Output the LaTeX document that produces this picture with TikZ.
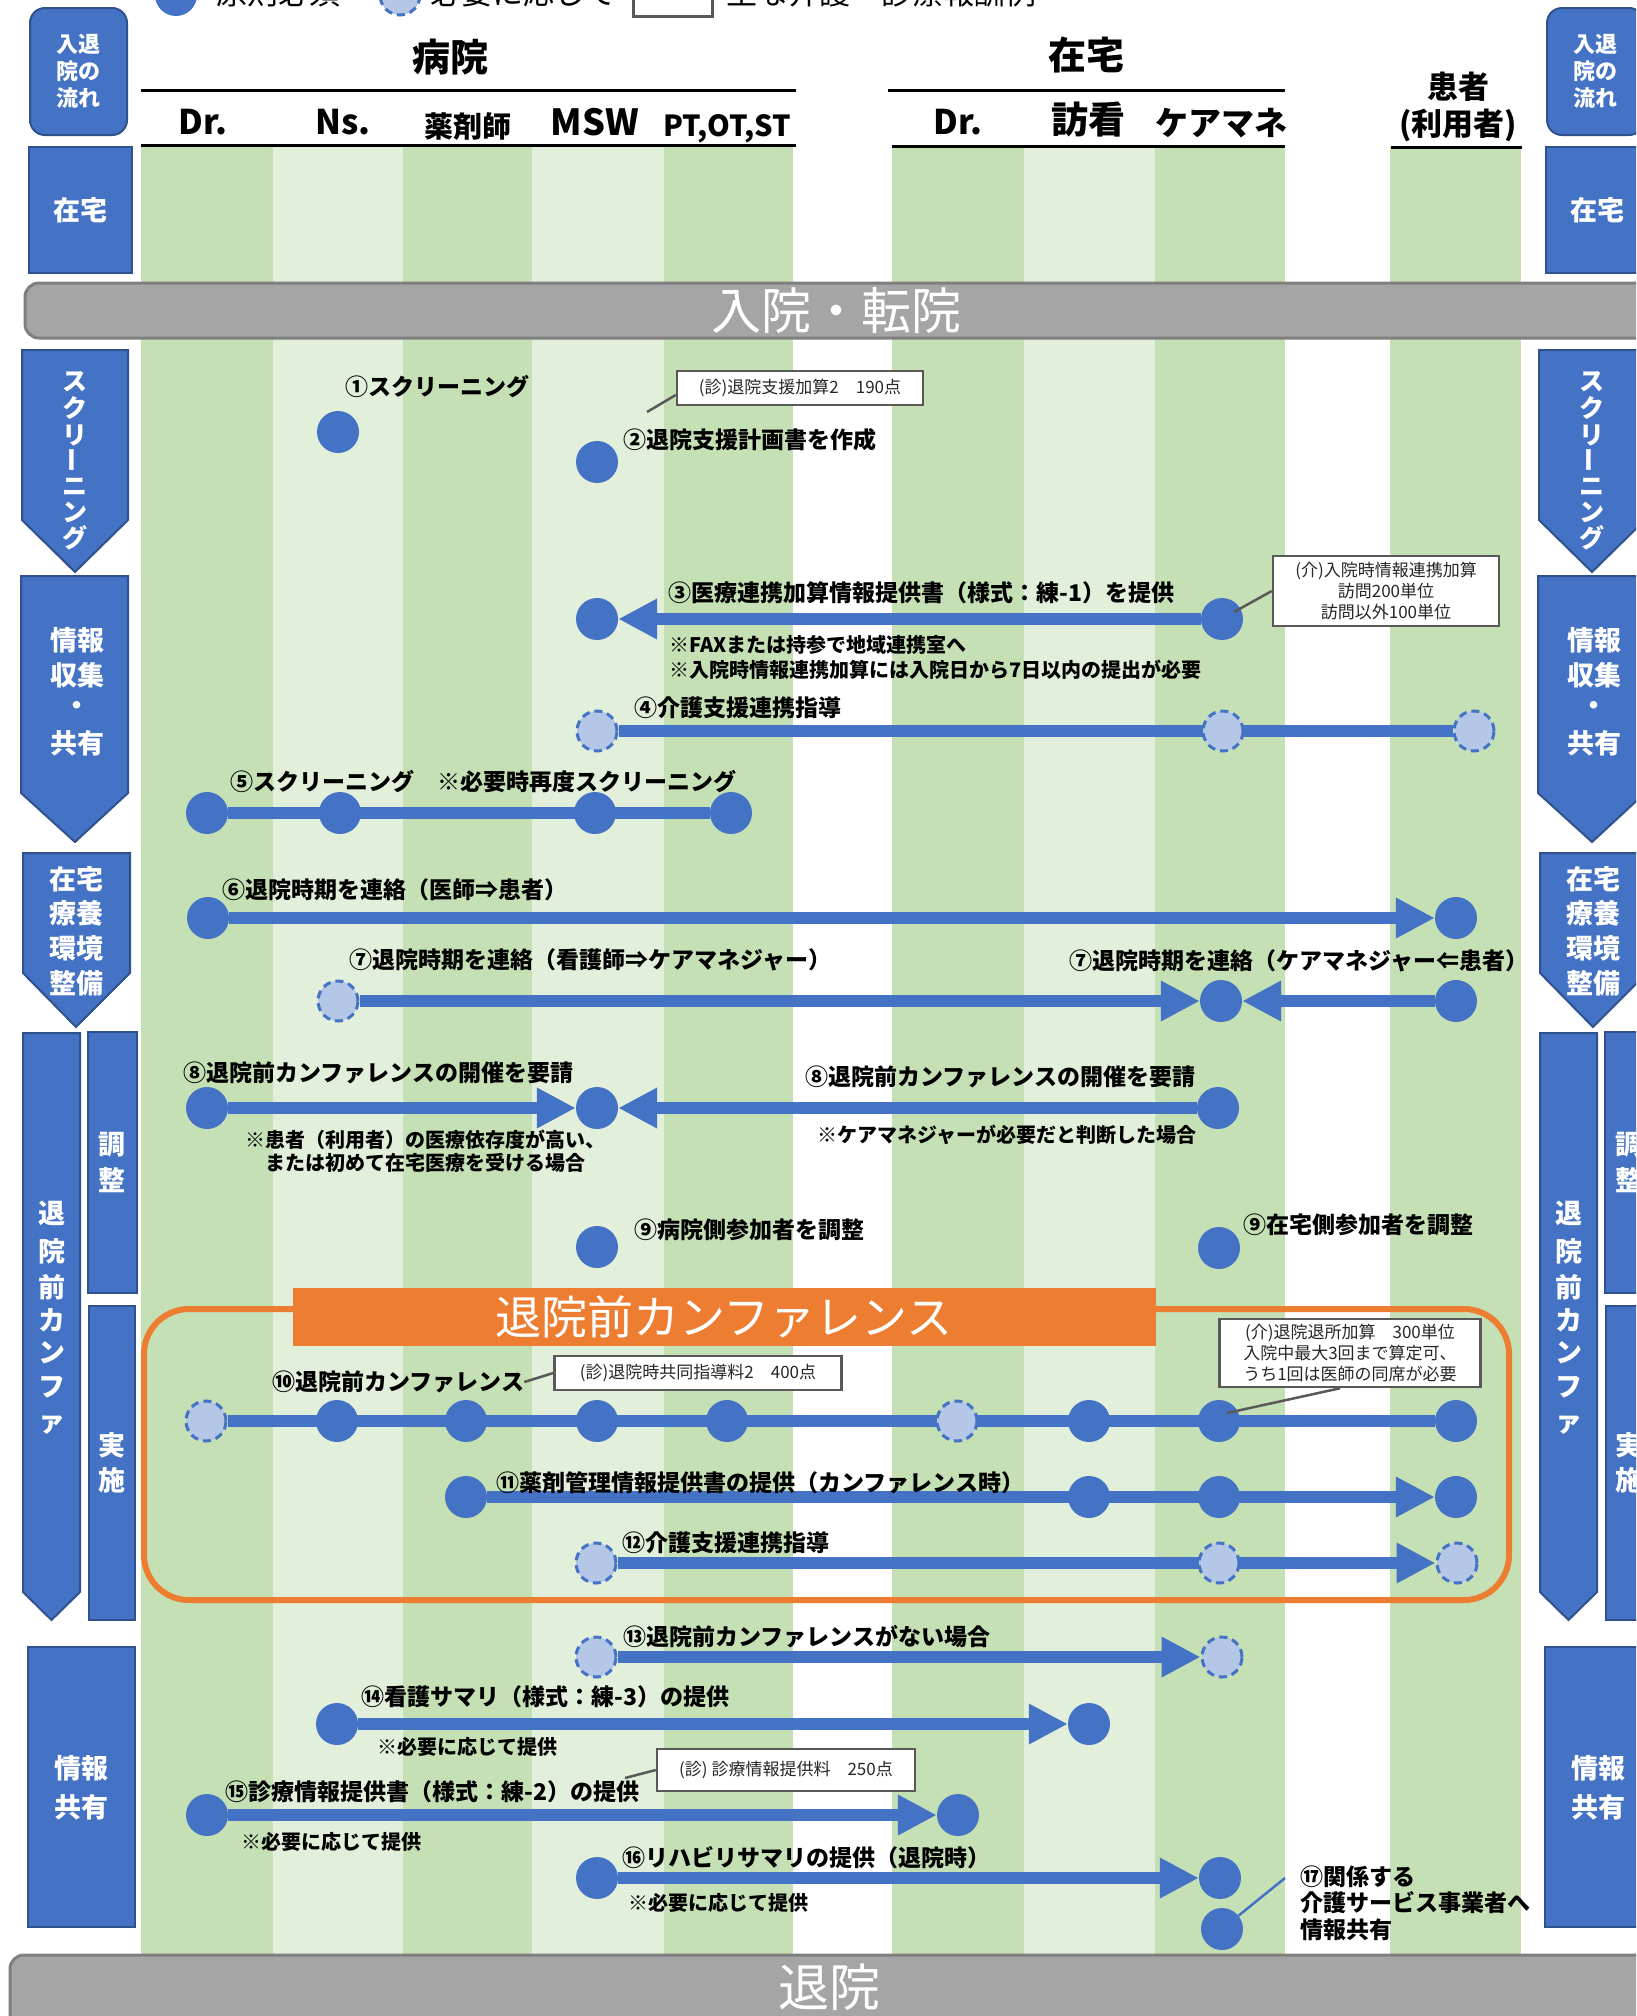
\documentclass[tikz,border=0pt]{standalone}
\usepackage{fontspec}
\setmainfont{Noto Sans CJK JP}
\usetikzlibrary{arrows.meta,shapes.geometric}
\definecolor{blu}{HTML}{4472C4}
\definecolor{dblu}{HTML}{2F528F}
\definecolor{lblu}{HTML}{B4C7E7}
\definecolor{dg}{HTML}{C5E0B4}
\definecolor{lg}{HTML}{E2EFDA}
\definecolor{org}{HTML}{ED7D31}
\definecolor{gbar}{HTML}{A5A5A5}
\definecolor{gbord}{HTML}{7F7F7F}
\definecolor{gry}{HTML}{595959}
\newcommand\fL{\fontsize{23}{27}\selectfont\bfseries}
\newcommand\fN{\fontsize{20}{23}\selectfont\bfseries}
\newcommand\fC{\fontsize{17}{21}\selectfont}
\newcommand\fV{\fontsize{27}{30}\selectfont\bfseries}
\pgfdeclarelayer{bg}
\pgfdeclarelayer{ln}
\pgfsetlayers{bg,ln,main}
\tikzset{
  dot/.style={circle, fill=blu, minimum size=42pt, inner sep=0pt},
  dsh/.style={circle, fill=lblu, draw=blu, line width=3pt, dash pattern=on 8pt off 5pt, minimum size=40pt, inner sep=0pt},
  conn/.style={line width=12pt, draw=blu},
  arr/.style={conn, -{Triangle[length=39pt,width=38pt]}},
  lbl/.style={anchor=west, inner sep=0pt, font=\fL},
  note/.style={anchor=west, inner sep=0pt, font=\fN},
  cbox/.style={draw=gry, line width=2.5pt, fill=white, font=\fC, text=black!85, inner sep=0pt, align=center},
  leader/.style={draw=gry, line width=2.5pt},
  bbox/.style={fill=blu, draw=dblu, line width=2pt},
  wt/.style={text=white, inner sep=0pt},
  hdr/.style={inner sep=0pt, font=\bfseries},
  hline/.style={line width=3pt, draw=black},
  gbarst/.style={fill=gbar, draw=gbord, line width=3pt, rounded corners=14pt},
}
\begin{document}
\begin{tikzpicture}[x=1pt,y=-1pt]
\useasboundingbox (0,0) rectangle (1636,2016);
\begin{pgfonlayer}{bg}
\fill[white] (0,0) rectangle (1636,2016);
% stripes
\fill[dg] (141,147) rectangle (273,1955);
\fill[lg] (273,147) rectangle (403,1955);
\fill[dg] (403,147) rectangle (532,1955);
\fill[lg] (532,147) rectangle (664,1955);
\fill[dg] (664,147) rectangle (793,1955);
\fill[dg] (892,147) rectangle (1024,1955);
\fill[lg] (1024,147) rectangle (1155,1955);
\fill[dg] (1155,147) rectangle (1285,1955);
\fill[dg] (1390,147) rectangle (1521,1955);
\end{pgfonlayer}
\clip (0,0) rectangle (1636,2016);

% legend (cut at the top)
\node[dot] (lg1) at (176,-5) {};
\node[anchor=west, inner sep=0pt, font=\fontsize{31}{31}\selectfont] (lg1t) at (216,-7) {原則必須};
\node[dsh] (lg2) at (400,-5) {};
\node[anchor=west, inner sep=0pt, font=\fontsize{31}{31}\selectfont] (lg2t) at (430,-7) {必要に応じて};
\node[draw=gry, line width=3pt, fill=white, minimum width=79pt, minimum height=56pt, inner sep=0pt] (lg3) at (673,-12) {};
\node[anchor=west, inner sep=0pt, font=\fontsize{31}{31}\selectfont] (lg3t) at (726,-7) {主な介護・診療報酬例};

% headers
\node[hdr, font=\fontsize{38}{38}\selectfont\bfseries] (hb) at (450,57) {病院};
\draw[hline] (141,90) -- (796,90);
\draw[hline] (141,145) -- (796,145);
\node[hdr, font=\fontsize{34}{34}\selectfont\bfseries] (hdr1) at (203,122) {Dr.};
\node[hdr, font=\fontsize{34}{34}\selectfont\bfseries] (hns) at (343,122) {Ns.};
\node[hdr, font=\fontsize{29}{29}\selectfont\bfseries] (hph) at (468,127) {薬剤師};
\node[hdr, font=\fontsize{36}{36}\selectfont\bfseries] (hmsw) at (595,122) {MSW};
\node[hdr, font=\fontsize{29}{29}\selectfont\bfseries] (hpt) at (727,129) {PT,OT,ST};
\node[hdr, font=\fontsize{38}{38}\selectfont\bfseries] (hz) at (1086,55) {在宅};
\draw[hline] (888,90) -- (1285,90);
\draw[hline] (892,146) -- (1285,146);
\node[hdr, font=\fontsize{34}{34}\selectfont\bfseries] (hdr2) at (958,122) {Dr.};
\node[hdr, font=\fontsize{37}{37}\selectfont\bfseries] (hvn) at (1088,120) {訪看};
\node[hdr, font=\fontsize{33}{33}\selectfont\bfseries] (hcm) at (1221,123) {ケアマネ};
\node[hdr, font=\fontsize{31}{31}\selectfont\bfseries] (hpat1) at (1458,87) {患者};
\node[hdr, font=\fontsize{31}{31}\selectfont\bfseries] (hpat2) at (1458,125) {(利用者)};
\draw[hline] (1391,147) -- (1522,147);

% grey bars
\draw[gbarst] (25,283) rectangle (1720,338);
\node[wt, font=\fontsize{50}{50}\selectfont] (adm) at (836,311) {入院・転院};
\draw[gbarst] (10,1955) rectangle (1720,2110);
\node[wt, font=\fontsize{51}{51}\selectfont] (dis) at (829,1987) {退院};

% side labels, left and right
\foreach \dx/\sd in {0/L,1517/R}{
\begin{scope}[xshift=\dx pt]
  \draw[bbox, rounded corners=15pt] (30,8) rectangle (127,135);
  \node[wt, font=\fontsize{22}{27}\selectfont\bfseries, align=center] (flow\sd) at (78,71) {入退\\院の\\流れ};
  \draw[bbox] (29,147) rectangle (132,273);
  \node[wt, font=\fontsize{27}{27}\selectfont\bfseries] (home\sd) at (80,210) {在宅};
  \draw[bbox] (22,350) -- (128,350) -- (128,520) -- (75,572) -- (22,520) -- cycle;
  \foreach \c/\yy in {ス/382,ク/408,リ/435,ニ/487,ン/512,グ/538}
    \node[wt, font=\fontsize{25}{25}\selectfont\bfseries] (scr\sd\yy) at (75,\yy) {\c};
  \node[wt, font=\fontsize{25}{25}\selectfont\bfseries, rotate=90] (scrbar\sd) at (75,460) {ー};
  \draw[bbox] (21,576) -- (128,576) -- (128,793) -- (75,842) -- (21,793) -- cycle;
  \foreach \c/\yy in {情報/640,収集/675,・/708,共有/743}
    \node[wt, font=\fV] (inf\sd\yy) at (77,\yy) {\c};
  \draw[bbox] (23,853) -- (130,853) -- (130,973) -- (76,1027) -- (23,973) -- cycle;
  \foreach \c/\yy in {在宅/879,療養/913,環境/948,整備/983}
    \node[wt, font=\fV] (env\sd\yy) at (76,\yy) {\c};
  \draw[bbox] (23,1033) -- (80,1033) -- (80,1592) -- (51.5,1620) -- (23,1592) -- cycle;
  \foreach \c/\yy in {退/1213,院/1251,前/1287,カ/1320,ン/1353,フ/1387,ァ/1425}
    \node[wt, font=\fontsize{27}{27}\selectfont\bfseries] (conf\sd\yy) at (51.5,\yy) {\c};
  \draw[bbox] (88,1032) rectangle (137,1293);
  \node[wt, font=\fontsize{27}{27}\selectfont\bfseries] (adj1\sd) at (112,1145) {調};
  \node[wt, font=\fontsize{27}{27}\selectfont\bfseries] (adj2\sd) at (112,1180) {整};
  \draw[bbox] (89,1306) rectangle (135,1620);
  \node[wt, font=\fontsize{27}{27}\selectfont\bfseries] (imp1\sd) at (112,1445) {実};
  \node[wt, font=\fontsize{27}{27}\selectfont\bfseries] (imp2\sd) at (112,1480) {施};
  \draw[bbox] (28,1647) rectangle (135,1927);
  \node[wt, font=\fV] (sh1\sd) at (81,1768) {情報};
  \node[wt, font=\fV] (sh2\sd) at (81,1807) {共有};
\end{scope}}

% conference frame
\draw[org, line width=6pt, rounded corners=45pt] (144,1309) rectangle (1509,1600);
\fill[org] (293,1288) rectangle (1156,1346);
\node[wt, font=\fontsize{46}{46}\selectfont] (conft) at (724,1317) {退院前カンファレンス};

% ---- circles ----
\node[dot] (n1) at (338,432) {};
\node[dot] (n2) at (597,462) {};
\node[dot] (n3a) at (597,619) {};
\node[dot] (n3b) at (1222,619) {};
\node[dsh] (n4a) at (597,731) {};
\node[dsh] (n4b) at (1223,731) {};
\node[dsh] (n4c) at (1474,731) {};
\node[dot] (n5a) at (207,813) {};
\node[dot] (n5b) at (340,813) {};
\node[dot] (n5c) at (595,813) {};
\node[dot] (n5d) at (731,813) {};
\node[dot] (n6a) at (208,918) {};
\node[dot] (n6b) at (1456,918) {};
\node[dsh] (n7a) at (338,1001) {};
\node[dot] (n7b) at (1221,1001) {};
\node[dot] (n7c) at (1456,1001) {};
\node[dot] (n8a) at (207,1108) {};
\node[dot] (n8b) at (597,1108) {};
\node[dot] (n8c) at (1218,1108) {};
\node[dot] (n9a) at (597,1247) {};
\node[dot] (n9b) at (1219,1248) {};
\foreach \x/\s [count=\i] in {206/dsh,337/dot,466/dot,597/dot,727/dot,957/dsh,1089/dot,1219/dot,1456/dot}
  \node[\s] (n10-\i) at (\x,1421) {};
\node[dot] (n11a) at (466,1497) {};
\node[dot] (n11b) at (1089,1497) {};
\node[dot] (n11c) at (1219,1497) {};
\node[dot] (n11d) at (1456,1497) {};
\node[dsh] (n12a) at (596,1563) {};
\node[dsh] (n12b) at (1219,1563) {};
\node[dsh] (n12c) at (1457,1563) {};
\node[dsh] (n13a) at (596,1657) {};
\node[dsh] (n13b) at (1222,1657) {};
\node[dot] (n14a) at (337,1724) {};
\node[dot] (n14b) at (1089,1724) {};
\node[dot] (n15a) at (207,1815) {};
\node[dot] (n15b) at (958,1815) {};
\node[dot] (n16a) at (597,1878) {};
\node[dot] (n16b) at (1220,1878) {};
\node[dot] (n17) at (1222,1929) {};

% ---- connectors ----
\begin{pgfonlayer}{ln}
\draw[arr] (n3b) -- (n3a);
\draw[conn] (n4a) -- (n4c);
\draw[conn] (n5a) -- (n5d);
\draw[arr] (n6a) -- (n6b);
\draw[arr] (n7a) -- (n7b);
\draw[arr] (n7c) -- (n7b);
\draw[arr] (n8a) -- (n8b);
\draw[arr] (n8c) -- (n8b);
\draw[conn] (n10-1) -- (n10-9);
\draw[arr] (n11a) -- (n11d);
\draw[arr] (n12a) -- (n12c);
\draw[arr] (n13a) -- (n13b);
\draw[arr] (n14a) -- (n14b);
\draw[arr] (n15a) -- (n15b);
\draw[arr] (n16a) -- (n16b);
\end{pgfonlayer}

% ---- labels ----
\node[lbl] (t1) at (345,387) {①スクリーニング};
\node[lbl] (t2) at (623,440) {②退院支援計画書を作成};
\node[lbl] (t3) at (668,593) {③医療連携加算情報提供書（様式：練-1）を提供};
\node[note] (t3n1) at (669,645) {※FAXまたは持参で地域連携室へ};
\node[note] (t3n2) at (669,670) {※入院時情報連携加算には入院日から7日以内の提出が必要};
\node[lbl] (t4) at (634,708) {④介護支援連携指導};
\node[lbl] (t5) at (230,782) {⑤スクリーニング　※必要時再度スクリーニング};
\node[lbl] (t6) at (222,890) {⑥退院時期を連絡（医師⇒患者）};
\node[lbl] (t7a) at (349,960) {⑦退院時期を連絡（看護師⇒ケアマネジャー）};
\node[lbl] (t7b) at (1069,961) {⑦退院時期を連絡（ケアマネジャー⇐患者）};
\node[lbl] (t8a) at (183,1073) {⑧退院前カンファレンスの開催を要請};
\node[lbl] (t8b) at (805,1077) {⑧退院前カンファレンスの開催を要請};
\node[inner sep=0pt, font=\fN, align=center] (t8n1) at (425,1151) {※患者（利用者）の医療依存度が高い、\\または初めて在宅医療を受ける場合};
\node[note] (t8n2) at (817,1135) {※ケアマネジャーが必要だと判断した場合};
\node[lbl] (t9a) at (634,1230) {⑨病院側参加者を調整};
\node[lbl] (t9b) at (1243,1225) {⑨在宅側参加者を調整};
\node[lbl] (t10) at (272,1382) {⑩退院前カンファレンス};
\node[lbl] (t11) at (496,1483) {⑪薬剤管理情報提供書の提供（カンファレンス時）};
\node[lbl] (t12) at (622,1543) {⑫介護支援連携指導};
\node[lbl] (t13) at (623,1637) {⑬退院前カンファレンスがない場合};
\node[lbl] (t14) at (361,1697) {⑭看護サマリ（様式：練-3）の提供};
\node[note] (t14n) at (377,1747) {※必要に応じて提供};
\node[lbl] (t15) at (225,1792) {⑮診療情報提供書（様式：練-2）の提供};
\node[note] (t15n) at (241,1842) {※必要に応じて提供};
\node[lbl] (t16) at (622,1858) {⑯リハビリサマリの提供（退院時）};
\node[note] (t16n) at (628,1903) {※必要に応じて提供};
\node[lbl, align=left, font=\fontsize{23}{26.5}\selectfont\bfseries] (t17) at (1300,1903) {⑰関係する\\介護サービス事業者へ\\情報共有};

% ---- callout boxes ----
\node[cbox, minimum width=246pt, minimum height=34pt] (b1) at (800,388) {(診)退院支援加算2　190点};
\coordinate (l1) at (647,412);
\draw[leader] ([yshift=-7pt]b1.west) -- (l1);
\node[cbox, minimum width=226pt, minimum height=70pt] (b2) at (1386,591) {(介)入院時情報連携加算\\訪問200単位\\訪問以外100単位};
\coordinate (l2) at (1234,612);
\draw[leader] (b2.west) -- (l2);
\node[cbox, minimum width=287pt, minimum height=34pt] (b3) at (698,1373) {(診)退院時共同指導料2　400点};
\draw[leader] (t10.east) -- (b3.west);
\node[cbox, minimum width=261pt, minimum height=68pt] (b4) at (1350,1353) {(介)退院退所加算　300単位\\入院中最大3回まで算定可、\\うち1回は医師の同席が必要};
\coordinate (l4) at (1227,1413);
\draw[leader] ([xshift=-10pt]b4.south) -- (l4);
\node[cbox, minimum width=258pt, minimum height=42pt] (b5) at (786,1770) {(診) 診療情報提供料　250点};
\coordinate (l5) at (625,1778);
\draw[leader] (b5.west) -- (l5);
\coordinate (l17) at (1285,1878);
\draw[blu, line width=2.5pt] (n17) -- (l17);
\end{tikzpicture}
\end{document}
